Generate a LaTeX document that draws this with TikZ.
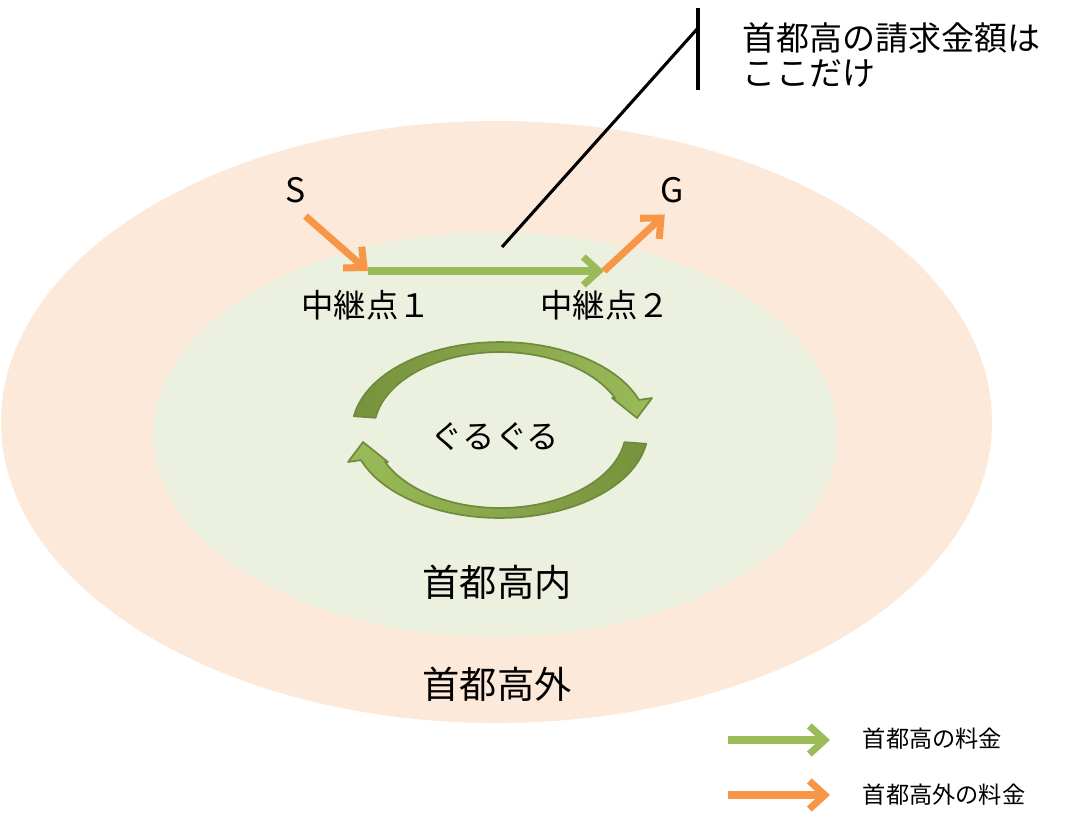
\documentclass[tikz,border=0pt]{standalone}
\usepackage{fontspec}
\setmainfont{Noto Sans CJK JP}
\usepackage{tikz}
\usetikzlibrary{arrows.meta}
\usetikzlibrary{positioning}

\definecolor{outside}{HTML}{FDE9D9}
\definecolor{inside}{HTML}{EBF1DE}
\definecolor{tollgreen}{HTML}{9BBB59}
\definecolor{tollorange}{HTML}{F79646}
\definecolor{loopdark}{HTML}{76923C}
\definecolor{loopline}{HTML}{6E8B3D}

\tikzset{
  green toll/.style={draw=tollgreen, line width=5pt, -{Straight Barb[length=11pt,width=20pt]}},
  orange toll/.style={draw=tollorange, line width=5pt, -{Straight Barb[length=11pt,width=20pt]}},
  lead line/.style={draw=black, line width=2.2pt},
  big/.style={font=\fontsize{23}{25}\selectfont},
  area/.style={font=\fontsize{26.5}{30}\selectfont},
  small/.style={font=\fontsize{16.5}{20}\selectfont},
  letter/.style={font=\fontsize{24}{28}\selectfont}
}

% #1 = 1 (top) or -1 (bottom), #2 left colour, #3 right colour
\newcommand{\loopArrow}[3]{%
  \shadedraw[left color=#2, right color=#3, draw=loopline, line width=1.2pt, line join=round]
    plot[domain=171:20, samples=40] ({500+#1*148*cos(\x)}, {430-#1*88*sin(\x)})
    -- ({500+#1*152}, {430-#1*32})
    -- ({500+#1*137}, {430-#1*12})
    -- ({500+#1*112}, {430-#1*32})
    -- plot[domain=24:171, samples=40] ({500+#1*126*cos(\x)}, {430-#1*78*sin(\x)})
    -- cycle;}

\begin{document}
\begin{tikzpicture}[x=0.025cm, y=-0.025cm]

\useasboundingbox (0,0) rectangle (1070,834);

\fill[outside] (496.5,422) ellipse [x radius=495.5, y radius=301];
\fill[inside] (495.5,434.5) ellipse [x radius=342.5, y radius=202.5];

\node[letter] (S) at (296,190) {S};
\node[letter] (G) at (672,190) {G};
\coordinate (relay1) at (368,271);
\coordinate (relay2) at (604,271);

\draw[green toll] (relay1) -- (relay2);
\draw[orange toll, shorten <=9pt] (S.south) -- (relay1);
\draw[orange toll, shorten >=7pt] (relay2) -- (G.south);

\node[big] (r1label) at (366,305) {中継点１};
\node[big] (r2label) at (605,305) {中継点２};

\coordinate (lead) at (502,247);
\coordinate (bend) at (698,28);
\coordinate (bartop) at (698,8);
\coordinate (barbot) at (698,90);
\draw[lead line] (lead) -- (bend);
\draw[lead line] (bartop) -- (barbot);
\node[anchor=west, align=left, font=\fontsize{23.5}{25}\selectfont] (bill) at (738,55) {首都高の請求金額は\\ここだけ};

\loopArrow{1}{loopdark}{tollgreen}
\loopArrow{-1}{tollgreen}{loopdark}
\node[big] (round) at (495,437) {ぐるぐる};

\node[area] (inner) at (497,582) {首都高内};
\node[area] (outer) at (497,684) {首都高外};

\coordinate (keyA1) at (728,740);
\coordinate (keyA2) at (830,740);
\coordinate (keyB1) at (728,795);
\coordinate (keyB2) at (830,795);
\draw[green toll] (keyA1) -- (keyA2);
\draw[orange toll] (keyB1) -- (keyB2);
\node[small, anchor=west] (keyA) at (858,739) {首都高の料金};
\node[small, anchor=west] (keyB) at (858,795) {首都高外の料金};
\end{tikzpicture}
\end{document}
